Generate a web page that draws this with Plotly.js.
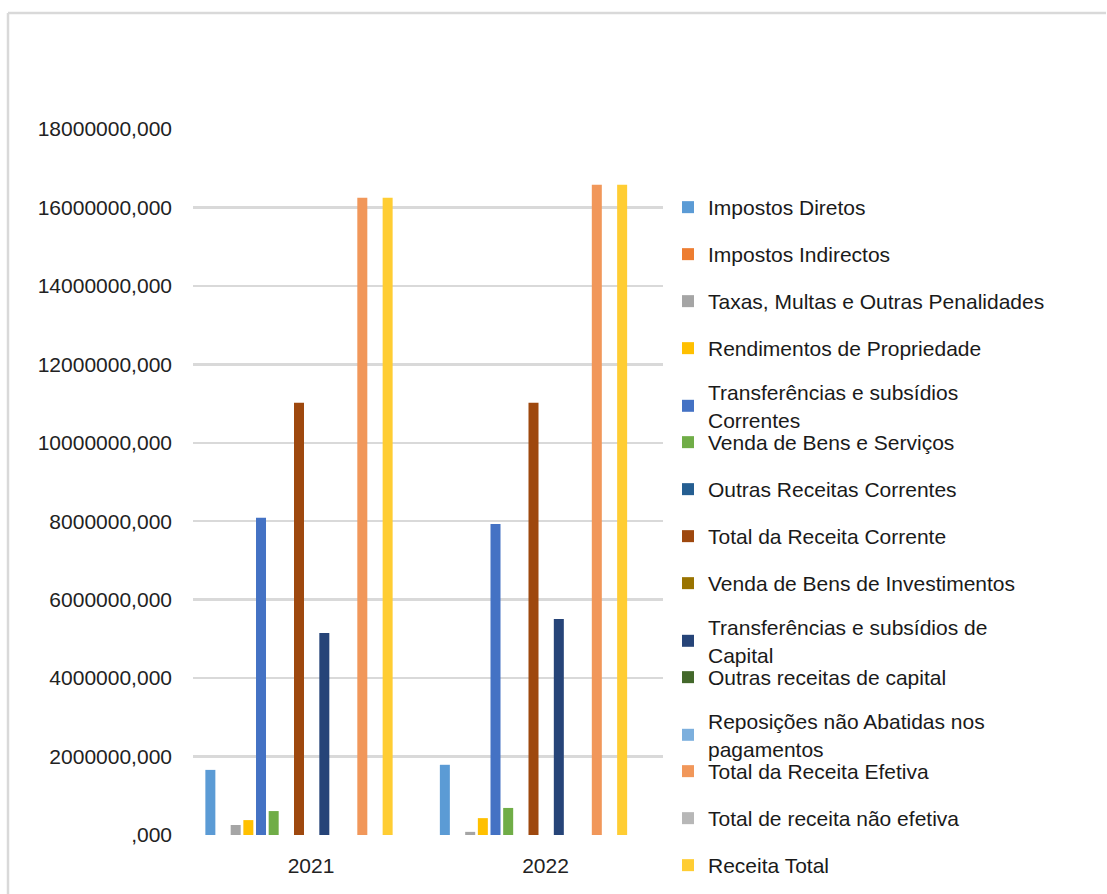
<!DOCTYPE html>
<html>
<head>
<meta charset="utf-8">
<script src="https://cdn.plot.ly/plotly-3.0.1.min.js"></script>
<style>html,body{margin:0;padding:0;background:#fff;}#chart{width:1107px;height:894px;}</style>
</head>
<body>
<div id="chart"></div>
<script>
// ---- data ----
const categories = ["2021", "2022"];
const seriesNames = [
  "Impostos Diretos",
  "Impostos Indirectos",
  "Taxas, Multas e Outras Penalidades",
  "Rendimentos de Propriedade",
  "Transferências e subsídios<br>Correntes",
  "Venda de Bens e Serviços",
  "Outras Receitas Correntes",
  "Total da Receita Corrente",
  "Venda de Bens de Investimentos",
  "Transferências e subsídios de<br>Capital",
  "Outras receitas de capital",
  "Reposições não Abatidas nos<br>pagamentos",
  "Total da Receita Efetiva",
  "Total de receita não efetiva",
  "Receita Total"
];
const impostosDiretos      = [1660000, 1790000];
const impostosIndirectos   = [0, 0];
const taxasMultas          = [255000, 80000];
const rendimentosProp      = [380000, 430000];
const transfCorrentes      = [8090000, 7930000];
const vendaBensServicos    = [610000, 690000];
const outrasRecCorrentes   = [0, 0];
const totalRecCorrente     = [11020000, 11020000];
const vendaBensInvest      = [0, 0];
const transfCapital        = [5150000, 5510000];
const outrasRecCapital     = [0, 0];
const reposicoes           = [0, 0];
const totalRecEfetiva      = [16250000, 16580000];
const totalRecNaoEfetiva   = [0, 0];
const receitaTotal         = [16250000, 16580000];
const seriesValues = [impostosDiretos, impostosIndirectos, taxasMultas, rendimentosProp,
  transfCorrentes, vendaBensServicos, outrasRecCorrentes, totalRecCorrente, vendaBensInvest,
  transfCapital, outrasRecCapital, reposicoes, totalRecEfetiva, totalRecNaoEfetiva, receitaTotal];
const seriesColors = ["#5B9BD5", "#ED7D31", "#A5A5A5", "#FFC000", "#4472C4", "#70AD47",
  "#255E91", "#9E480E", "#997300", "#264478", "#43682B", "#7CAFDD", "#F1975A", "#B7B7B7", "#FFCD33"];
const yTickVals = [0, 2000000, 4000000, 6000000, 8000000, 10000000, 12000000, 14000000, 16000000, 18000000];
const yTickText = [",000", "2000000,000", "4000000,000", "6000000,000", "8000000,000", "10000000,000",
  "12000000,000", "14000000,000", "16000000,000", "18000000,000"];

// ---- layout geometry (pixels) ----
const W = 1107, H = 894;
const plotL = 193, plotR = 663, plotT = 129, plotB = 835;
const pw = plotR - plotL, ph = plotB - plotT;
const FONT = "Liberation Sans, Arial, sans-serif";

const traces = seriesNames.map((name, i) => ({
  type: "bar",
  name: name,
  x: categories,
  y: seriesValues[i],
  marker: {color: seriesColors[i], line: {width: 0}},
  legend: i === 0 ? "legend" : "legend" + (i + 1),
  showlegend: true,
  hoverinfo: "name+y"
}));

const layout = {
  width: W, height: H,
  margin: {l: plotL, r: W - plotR, t: plotT, b: H - plotB, pad: 0, autoexpand: false},
  paper_bgcolor: "#ffffff",
  plot_bgcolor: "#ffffff",
  showlegend: true,
  barmode: "group",
  bargap: 0.19,
  bargroupgap: 0.21,
  font: {family: FONT, size: 21, color: "#222222"},
  xaxis: {
    type: "category",
    range: [-(299 - plotL) / 234.5, (plotR - 299) / 234.5],
    showgrid: false, zeroline: false, showline: false,
    ticks: "", ticklabelshift: 12, ticklabelstandoff: 16,
    tickfont: {family: FONT, size: 21, color: "#222222"},
    automargin: false,
    fixedrange: true
  },
  yaxis: {
    range: [0, 18000000],
    tickvals: yTickVals, ticktext: yTickText,
    showgrid: true, gridcolor: "#D9D9D9", gridwidth: 2.5,
    zeroline: false, showline: false, ticks: "",
    ticklabelstandoff: 20,
    tickfont: {family: FONT, size: 21, color: "#222222"},
    automargin: false,
    fixedrange: true
  },
  shapes: [
    {type: "line", xref: "paper", yref: "paper",
     x0: (8 - plotL) / pw, x1: (8 - plotL) / pw, y0: (plotB - 13) / ph, y1: (plotB - H - 5) / ph,
     line: {color: "#D9D9D9", width: 2.5}},
    {type: "line", xref: "paper", yref: "paper",
     x0: (8 - plotL) / pw, x1: (W - 1 - plotL) / pw, y0: (plotB - 13) / ph, y1: (plotB - 13) / ph,
     line: {color: "#D9D9D9", width: 2.5}}
  ]
};

// one legend box per series, stacked at a regular slot spacing like the reference
const legendTop = 208, legendStep = 47;
seriesNames.forEach((name, i) => {
  const key = i === 0 ? "legend" : "legend" + (i + 1);
  const twoLine = name.indexOf("<br>") >= 0;
  const slotPx = legendTop + i * legendStep - (twoLine ? 5 : 2);
  layout[key] = {
    xref: "container", yref: "container",
    x: 668 / W, xanchor: "left",
    y: 1 - (slotPx - 19) / H, yanchor: "top",
    bgcolor: "rgba(0,0,0,0)", borderwidth: 0,
    font: {family: FONT, size: 21, color: "#1a1a1a"},
    traceorder: "normal"
  };
});

Plotly.newPlot("chart", traces, layout, {displayModeBar: false, staticPlot: true});
</script>
</body>
</html>
